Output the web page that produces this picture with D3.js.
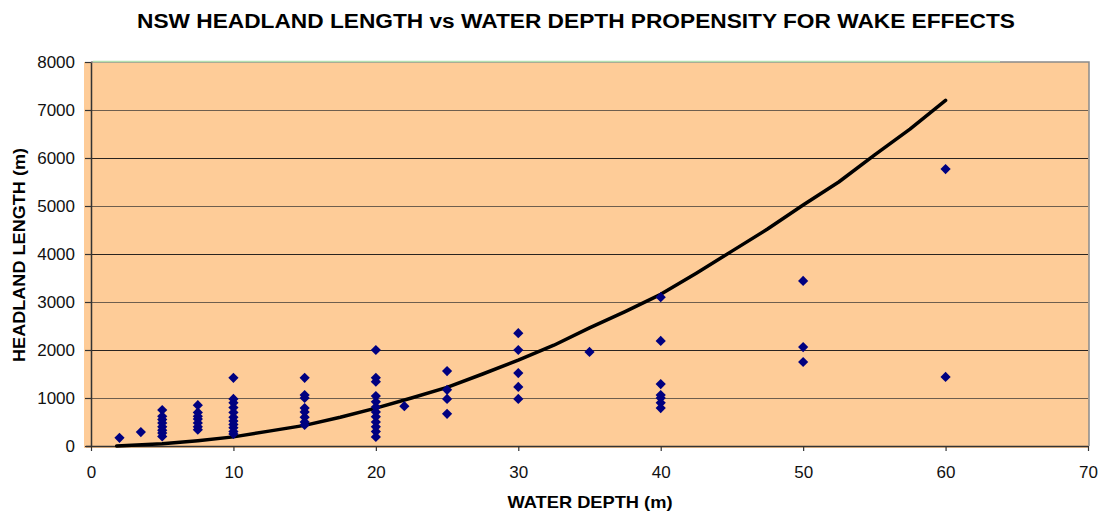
<!DOCTYPE html>
<html>
<head>
<meta charset="utf-8">
<script src="https://cdn.jsdelivr.net/npm/d3@7"></script>
<style>
  body { margin: 0; background: #fff; }
  svg { display: block; font-family: "Liberation Sans", Arial, sans-serif; }
</style>
</head>
<body>
<div class="chart"></div>
<script>
// scatter: observed headlands
const pointDepth = [
  2, 3.5,
  5, 5, 5, 5, 5, 5, 5, 5,
  7.5, 7.5, 7.5, 7.5, 7.5, 7.5, 7.5,
  10, 10, 10, 10, 10, 10, 10, 10, 10, 10, 10,
  15, 15, 15, 15, 15, 15, 15, 15,
  20, 20, 20, 20, 20, 20, 20, 20, 20, 20, 20, 20,
  22, 25, 25, 25, 25,
  30, 30, 30, 30, 30,
  35,
  40, 40, 40, 40, 40, 40, 40,
  50, 50, 50,
  60, 60
];
const pointLength = [
  170, 290,
  750, 620, 550, 480, 400, 330, 270, 200,
  850, 700, 620, 560, 480, 400, 340,
  1420, 980, 900, 800, 700, 600, 520, 450, 380, 300, 250,
  1420, 1060, 1000, 790, 710, 600, 500, 440,
  2000, 1420, 1340, 1040, 920, 810, 710, 610, 500, 400, 300, 190,
  830, 1560, 1170, 980, 670,
  2350, 2000, 1520, 1230, 980,
  1960,
  3100, 2190, 1290, 1060, 1000, 900, 790,
  3440, 2060, 1750,
  5770, 1440
];

// wake effect threshold line
const lineDepth = [1.8, 5, 7.5, 10, 12.5, 15, 17.5, 20, 22.5, 25, 27.5, 30, 32.5, 35, 37.5, 40, 42.5, 45, 47.5, 50, 52.5, 55, 57.5, 60];
const lineLength = [0, 45, 110, 190, 310, 430, 600, 790, 1000, 1220, 1500, 1790, 2100, 2460, 2800, 3160, 3600, 4060, 4520, 5020, 5500, 6060, 6600, 7200];

const xTicks = [0, 10, 20, 30, 40, 50, 60, 70];
const yTicks = [0, 1000, 2000, 3000, 4000, 5000, 6000, 7000, 8000];

const W = 1104, H = 515;
const pLeft = 91, pRight = 1088, pTop = 62, pBottom = 446;

const svg = d3.select(".chart").append("svg")
    .attr("width", W)
    .attr("height", H);

const x = d3.scaleLinear().domain([0, 70]).range([pLeft, pRight]);
const y = d3.scaleLinear().domain([0, 8000]).range([pBottom, pTop]);

// plot area
svg.append("rect")
    .attr("x", pLeft - 7)
    .attr("y", pTop)
    .attr("width", pRight - pLeft + 8)
    .attr("height", pBottom - pTop + 2)
    .attr("fill", "#fecc98");

// top / right border
svg.append("path")
    .attr("d", `M${pLeft},${pTop}H${pRight + 1}V${pBottom}`)
    .attr("fill", "none")
    .attr("stroke", "#8a8a8a")
    .attr("stroke-width", 1.5);
svg.append("line")
    .attr("x1", pLeft + 2).attr("x2", 1000)
    .attr("y1", pTop - 0.5).attr("y2", pTop - 0.5)
    .attr("stroke", "#b4e0b0")
    .attr("stroke-width", 1.5);

// gridlines
svg.append("g")
    .selectAll("line")
    .data(yTicks.filter(d => d > 0 && d < 8000))
    .join("line")
    .attr("x1", pLeft)
    .attr("x2", pRight)
    .attr("y1", d => Math.round(y(d)) + 0.5)
    .attr("y2", d => Math.round(y(d)) + 0.5)
    .attr("stroke", (d, i) => i % 2 ? "#2a2420" : "#6e5e4e")
    .attr("stroke-width", 1.2);

// axes
const xAxis = d3.axisBottom(x).tickValues(xTicks).tickSize(5).tickSizeOuter(0).tickPadding(15);
const yAxis = d3.axisLeft(y).tickValues(yTicks).tickFormat(d3.format("d"))
    .tickSize(6).tickSizeOuter(0).tickPadding(10);

const gx = svg.append("g")
    .attr("transform", `translate(0,${pBottom})`)
    .call(xAxis);
const gy = svg.append("g")
    .attr("transform", `translate(${pLeft},0)`)
    .call(yAxis);

[gx, gy].forEach(g => {
  g.select(".domain").attr("stroke", "#333").attr("stroke-width", 1.5);
  g.selectAll(".tick line").attr("stroke", "#333").attr("stroke-width", 1.2);
  g.selectAll("text")
      .attr("font-family", "'Liberation Sans', Arial, sans-serif")
      .attr("font-size", 17)
      .attr("fill", "#111");
});
gx.select(".domain").attr("d", `M${pLeft - 5},0.5H${pRight}`);

// threshold line
const line = d3.line()
    .x((d, i) => x(lineDepth[i]))
    .y(d => y(d));

svg.append("path")
    .datum(lineLength)
    .attr("d", line)
    .attr("fill", "none")
    .attr("stroke", "#000")
    .attr("stroke-width", 3.5)
    .attr("stroke-linejoin", "round")
    .attr("stroke-linecap", "round");

// points
const diamond = d3.symbol().type(d3.symbolSquare).size(52);
svg.append("g")
    .selectAll("path")
    .data(pointLength)
    .join("path")
    .attr("d", diamond)
    .attr("transform", (d, i) => `translate(${x(pointDepth[i])},${y(d)}) rotate(45)`)
    .attr("fill", "#000080");

// titles
svg.append("text")
    .attr("x", 576)
    .attr("y", 28)
    .attr("text-anchor", "middle")
    .attr("font-weight", "bold")
    .attr("font-size", 20)
    .attr("textLength", 878)
    .attr("lengthAdjust", "spacingAndGlyphs")
    .text("NSW HEADLAND LENGTH vs WATER DEPTH PROPENSITY FOR WAKE EFFECTS");

svg.append("text")
    .attr("x", 590)
    .attr("y", 508)
    .attr("text-anchor", "middle")
    .attr("font-weight", "bold")
    .attr("font-size", 17)
    .attr("textLength", 165)
    .attr("lengthAdjust", "spacingAndGlyphs")
    .text("WATER DEPTH (m)");

svg.append("text")
    .attr("transform", "translate(25,255) rotate(-90)")
    .attr("text-anchor", "middle")
    .attr("font-weight", "bold")
    .attr("font-size", 17)
    .attr("textLength", 214)
    .attr("lengthAdjust", "spacingAndGlyphs")
    .text("HEADLAND LENGTH (m)");
</script>
</body>
</html>
